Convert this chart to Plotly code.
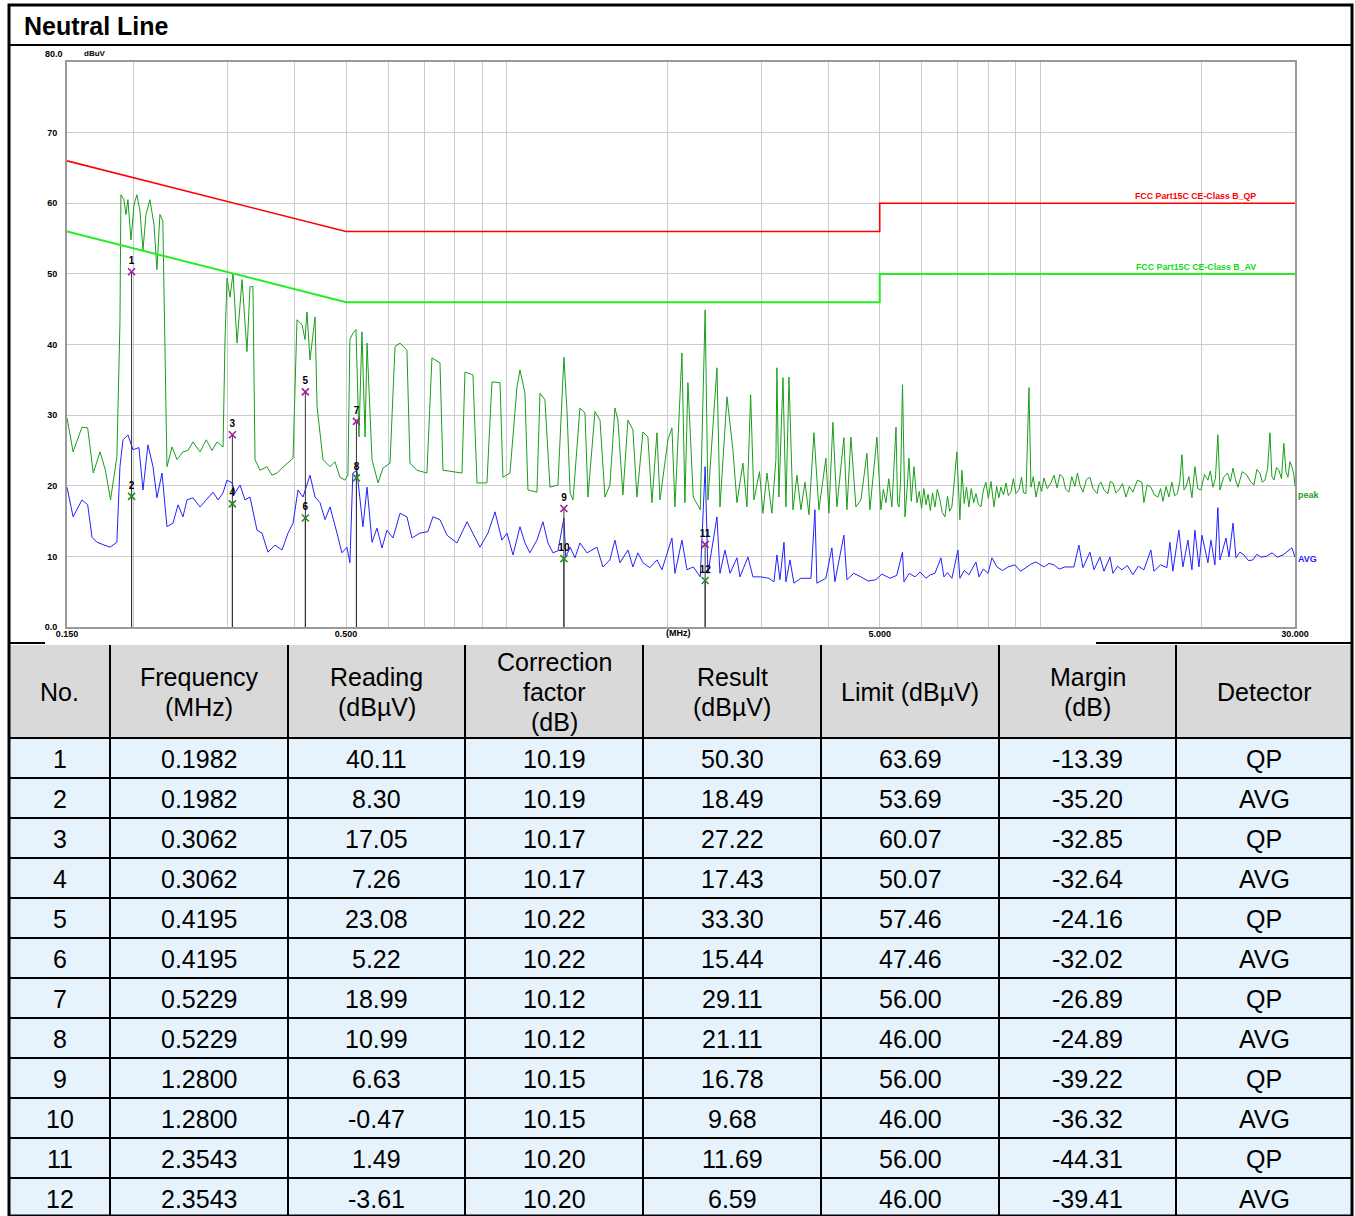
import math
import plotly.graph_objects as go

# ---------------- chart data ----------------
peak_freq = [0.150, 0.154, 0.160, 0.164, 0.168, 0.173, 0.177, 0.181, 0.186, 0.1885, 0.1893, 0.1918, 0.1934, 0.1951,
             0.1977, 0.2003, 0.2028, 0.2054, 0.2082, 0.2109, 0.2145, 0.2183, 0.2211, 0.2240, 0.2268, 0.2299, 0.2309,
             0.2360, 0.2411, 0.2474, 0.2528, 0.2583, 0.2663, 0.2735, 0.2805, 0.2866, 0.2941, 0.2966, 0.2992, 0.3031,
             0.3070, 0.3124, 0.3192, 0.3261, 0.3304, 0.3346, 0.3376, 0.3449, 0.3554, 0.3632, 0.3713, 0.3793, 0.3876,
             0.3978, 0.4046, 0.4135, 0.4189, 0.4225, 0.4280, 0.4374, 0.4412, 0.4527, 0.4666, 0.4766, 0.4870, 0.4976,
             0.5041, 0.5084, 0.5149, 0.5219, 0.5286, 0.5355, 0.5427, 0.5474, 0.5593, 0.5740, 0.5864, 0.6044, 0.6176,
             0.6311, 0.6502, 0.6588, 0.6789, 0.7088, 0.7243, 0.7499, 0.7596, 0.7931, 0.8246, 0.8352, 0.8646, 0.8797,
             0.9183, 0.9384, 0.9715, 0.9840, 1.0142, 1.0454, 1.059, 1.082, 1.096, 1.1394, 1.1544, 1.1793, 1.2052,
             1.2475, 1.2800, 1.297, 1.3147, 1.3313, 1.3716, 1.4018, 1.4199, 1.4635, 1.4957, 1.5278, 1.5611, 1.5952,
             1.6159, 1.6512, 1.6873, 1.7240, 1.7539, 1.8000, 1.8392, 1.8713, 1.9122, 1.9372, 2.0052, 2.0400, 2.0666,
             2.1300, 2.1576, 2.1856, 2.2365, 2.3055, 2.3543, 2.3830, 2.4773, 2.5097, 2.5868, 2.6545, 2.7005, 2.7708,
             2.8194, 2.8647, 2.9058, 2.9767, 3.0207, 3.0735, 3.1401, 3.195, 3.2088, 3.2364, 3.2938, 3.3362, 3.3799,
             3.4387, 3.4986, 3.559, 3.6215, 3.6845, 3.7644, 3.8460, 3.9636, 4.0156, 4.0852, 4.1564, 4.2840, 4.3403,
             4.4154, 4.5117, 4.6103, 4.7315, 4.7930, 4.9400,
             5.026, 5.08, 5.1355, 5.20, 5.2695, 5.3646, 5.40, 5.4342, 5.47, 5.5164, 5.5764, 5.62, 5.6730, 5.73,
             5.7966, 5.8716, 5.93, 5.99, 6.05, 6.1044, 6.16, 6.22, 6.28, 6.3462, 6.41, 6.4827, 6.55, 6.6241, 6.70,
             6.76, 6.8271, 6.9755, 7.0665, 7.1267, 7.20, 7.27, 7.3465, 7.42, 7.50, 7.5736, 7.65, 7.7384, 7.82,
             7.9072, 7.99, 8.08, 8.1856, 8.28, 8.36, 8.436, 8.53, 8.6202, 8.71, 8.8074, 8.90, 9.00, 9.1161, 9.22,
             9.30, 9.398, 9.52, 9.602, 9.70, 9.812, 9.95, 10.05, 10.155, 10.30, 10.467, 10.604, 10.75, 10.88,
             11.026, 11.15, 11.311, 11.45, 11.60, 11.735, 11.87, 12.016, 12.20, 12.384, 12.55, 12.768, 12.88,
             12.99, 13.18, 13.385, 13.52, 13.678, 13.85, 14.036, 14.25, 14.466, 14.68, 14.907, 15.20, 15.498,
             15.632, 15.85, 16.11, 16.35, 16.605, 16.80, 16.967, 17.20, 17.411, 17.635, 17.85, 18.063, 18.25,
             18.418, 18.58, 18.736, 18.98, 19.23, 19.48, 19.72, 19.99, 20.30, 20.60, 20.82, 21.05, 21.28, 21.51,
             21.70, 22.05, 22.42, 22.70, 22.96, 23.20, 23.45, 23.90, 24.38, 24.75, 25.13, 25.45, 25.79, 26.05,
             26.35, 26.65, 26.93, 27.15, 27.40, 27.70, 27.99, 28.30, 28.59, 28.85, 29.10, 29.35, 29.60, 29.85,
             30.00]
peak_level = [29.6, 24.8, 28.3, 28.2, 21.8, 24.8, 22.2, 18.0, 24.1, 43.0, 61.2, 60.5, 58.4, 60.5,
              54.8, 59.8, 61.2, 59.0, 53.4, 58.4, 60.5, 57.0, 50.6, 58.4, 57.5, 27.9, 22.7,
              25.5, 23.7, 24.8, 25.0, 26.2, 24.8, 26.5, 25.0, 26.2, 25.5, 40.7, 49.4, 46.7,
              50.1, 40.2, 49.2, 39.0, 48.2, 48.2, 23.7, 22.2, 22.7, 21.5, 21.8, 22.5, 23.2,
              23.9, 43.5, 42.8, 40.7, 44.6, 37.8, 43.9, 31.2, 23.7, 22.7, 23.4, 21.2, 20.8,
              21.5, 40.7, 41.6, 42.1, 26.9, 41.8, 26.9, 40.2, 23.7, 20.4, 22.5, 23.2, 39.7,
              40.2, 39.2, 23.2, 22.2, 21.8, 38.1, 37.4, 22.2, 22.0, 21.8, 36.1, 35.7, 20.4,
              20.4, 34.7, 34.6, 21.2, 21.8, 34.0, 36.4, 33.1, 19.4, 19.1, 33.1, 32.2, 19.8,
              20.1, 38.2, 30.7, 19.0, 18.0, 31.0, 30.3, 18.4, 30.5, 29.3, 18.4, 20.1, 31.0,
              29.3, 18.7, 29.3, 27.9, 18.4, 27.6, 26.9, 17.6, 27.5, 18.0, 26.5, 28.2, 17.0,
              38.8, 17.6, 34.6, 18.4, 16.6, 44.9, 18.0, 36.7, 17.0, 32.6, 25.0, 17.6, 23.2,
              17.0, 32.9, 18.0, 22.0, 16.1, 21.8, 16.1, 23.7, 36.7, 18.4, 35.3, 17.0, 35.4,
              16.6, 21.5, 16.6, 20.5, 15.9, 27.5, 16.6, 23.9, 16.1, 29.0, 17.0, 26.8, 16.6,
              26.9, 17.0, 18.0, 24.6, 16.6, 26.9,
              16.6, 19.5, 17.6, 21.0, 17.0, 28.3, 17.5, 17.0, 20.5, 34.3, 15.6, 19.0, 23.9, 17.8,
              22.7, 17.6, 19.2, 16.8, 19.6, 17.3, 18.8, 16.5, 19.0, 17.0, 19.5, 18.0, 16.2, 15.6, 18.5,
              16.4, 17.0, 24.8, 15.2, 22.2, 17.5, 19.8, 17.0, 19.6, 17.6, 18.9, 17.4, 17.0, 19.4,
              20.5, 18.2, 20.6, 17.0, 19.9, 18.3, 19.8, 18.7, 20.4, 18.6, 19.1, 21.0, 18.9, 19.4, 21.2,
              19.0, 18.9, 33.9, 19.8, 21.3, 18.4, 20.6, 19.2, 21.1, 19.6, 20.4, 21.5, 19.7, 21.6,
              21.2, 19.5, 19.1, 21.3, 19.9, 21.8, 20.0, 19.1, 20.9, 21.2, 19.6, 18.9, 20.2,
              20.5, 19.3, 18.9, 20.6, 20.4, 19.0, 19.4, 20.3, 18.4, 19.9, 19.1, 20.8, 20.5,
              17.6, 20.1, 19.8, 18.7, 18.4, 19.6, 17.8, 19.9, 18.4, 20.5, 18.6, 18.9, 20.6,
              24.4, 19.4, 19.8, 21.3, 18.3, 22.7, 19.6, 19.4, 21.6, 20.8, 22.1, 19.8, 21.0, 27.2,
              19.4, 21.2, 21.8, 20.6, 22.5, 20.9, 19.8, 22.0, 21.5, 20.6, 20.1, 22.3, 21.8, 20.5,
              20.8, 22.4, 27.5, 21.3, 20.8, 22.6, 22.2, 21.0, 26.0, 22.0, 21.2, 23.4, 22.7, 21.6,
              19.9]

avg_freq = [0.150, 0.154, 0.160, 0.164, 0.1671, 0.1707, 0.1806, 0.186, 0.1885, 0.1910, 0.1951, 0.1994, 0.2046,
            0.2082, 0.2127, 0.2174, 0.2211, 0.2260, 0.2309, 0.2370, 0.2422, 0.2474, 0.2517, 0.2583, 0.2663, 0.2735,
            0.2817, 0.2878, 0.2941, 0.2992, 0.3058, 0.3097, 0.3165, 0.3233, 0.3304, 0.3405, 0.3479, 0.3570, 0.3680,
            0.3793, 0.3893, 0.3978, 0.4064, 0.4153, 0.4280, 0.4374, 0.4469, 0.4567, 0.4666, 0.4808, 0.4912, 0.5019,
            0.5084, 0.5149, 0.5240, 0.5378, 0.5474, 0.5593, 0.5714, 0.5839, 0.5966, 0.6122, 0.6311, 0.6502, 0.6645,
            0.6877, 0.7118, 0.7274, 0.7499, 0.7729, 0.8069, 0.8426, 0.8646, 0.8911, 0.9224, 0.9509, 0.9797, 1.0013,
            1.0276, 1.0590, 1.0820, 1.1052, 1.1394, 1.1693, 1.1948, 1.2209, 1.2475, 1.2800, 1.2900, 1.3147, 1.3425,
            1.3716, 1.4139, 1.4761, 1.5147, 1.5611, 1.5952, 1.6299, 1.6873, 1.7240, 1.7615, 1.8000, 1.8553, 1.9122,
            1.9540, 1.9966, 2.0400, 2.0666, 2.1300, 2.1764, 2.2365, 2.3055, 2.3543, 2.3830, 2.4773, 2.5097, 2.5643,
            2.6213, 2.7005, 2.7360, 2.8317, 2.8935, 2.9949, 3.1000, 3.1677, 3.2088, 3.2505, 3.3079, 3.3362, 3.3946,
            3.4531, 3.559, 3.7163, 3.7804, 3.8128, 3.9636, 4.0676, 4.1208, 4.2840, 4.3403, 4.47, 4.6103, 4.76,
            4.9185, 5.05, 5.2245, 5.38, 5.5164, 5.5518, 5.68, 5.8218, 5.95, 6.1044, 6.22, 6.3462, 6.5114, 6.5961,
            6.70, 6.8271, 7.0063, 7.0665, 7.20, 7.3465, 7.5736, 7.6728, 7.82, 7.976, 8.1152, 8.2920, 8.50, 8.6945,
            8.9613, 9.18, 9.398, 9.60, 9.812, 10.155, 10.38, 10.604, 10.85, 11.119, 11.558, 11.808, 12.016,
            12.384, 12.604, 12.931, 13.157, 13.503, 13.678, 13.95, 14.217, 14.55, 14.907, 15.25, 15.632, 16.11,
            16.32, 16.80, 17.26, 17.487, 17.712, 18.178, 18.497, 18.9, 19.23, 19.48, 19.818, 20.078, 20.60, 20.872,
            21.236, 21.51, 21.70, 22.277, 22.565, 22.96, 23.255, 23.65, 24.068, 24.55, 25.02, 25.45, 25.9, 26.5,
            27.16, 27.8, 28.48, 29.0, 29.60, 30.00]
avg_level = [19.8, 15.6, 18.0, 17.3, 12.7, 12.0, 11.3, 12.0, 22.7, 26.5, 27.2, 25.1, 25.4,
             19.4, 25.8, 22.7, 18.3, 21.8, 14.2, 14.7, 17.3, 15.6, 18.0, 18.3, 17.0, 18.0,
             19.1, 18.0, 19.0, 20.8, 20.4, 19.0, 20.1, 18.0, 18.4, 13.7, 13.3, 10.6, 11.6,
             10.9, 13.3, 14.7, 19.4, 18.4, 21.5, 18.4, 17.6, 15.2, 17.0, 13.3, 10.5, 11.3,
             9.1, 21.8, 22.2, 14.2, 19.8, 12.0, 14.0, 11.2, 13.7, 12.6, 16.1, 15.6, 12.6,
             13.3, 13.5, 15.6, 15.2, 13.0, 11.9, 14.9, 13.3, 11.3, 13.3, 16.3, 12.3, 13.3,
             10.2, 14.2, 11.9, 10.5, 12.3, 14.9, 11.9, 10.5, 10.8, 15.4, 9.9, 11.3, 9.8,
             11.9, 10.5, 11.3, 8.5, 9.5, 12.3, 9.1, 10.9, 8.5, 10.5, 9.1, 8.4, 9.5,
             8.1, 10.5, 12.6, 7.6, 12.3, 8.1, 8.5, 7.1, 22.7, 7.6, 15.6, 7.6, 10.9,
             7.6, 9.8, 7.1, 9.9, 7.1, 7.1, 6.9, 6.4, 10.2, 6.7, 12.0, 6.4, 9.5,
             6.2, 6.9, 6.9, 16.6, 6.2, 6.9, 11.2, 6.4, 13.0, 6.7, 7.6, 7.1, 6.5,
             6.7, 7.5, 6.9, 7.3, 10.6, 6.4, 7.6, 7.1, 7.8, 6.9, 7.4, 7.6, 9.8, 7.1,
             7.7, 6.9, 10.9, 6.9, 8.0, 7.4, 9.2, 7.1, 8.2, 7.6, 9.8, 8.5, 8.0, 8.5,
             8.8, 7.9, 8.4, 8.9, 9.2, 8.5, 9.0, 8.8, 8.2, 8.5, 8.5, 11.6, 8.4,
             10.6, 8.1, 9.9, 7.9, 9.9, 7.6, 8.6, 8.1, 8.7, 7.4, 8.6, 8.1, 10.9,
             7.9, 8.8, 8.4, 12.0, 7.9, 13.7, 8.5, 12.3, 8.1, 13.7, 8.5, 13.0, 9.1, 12.3,
             8.8, 16.9, 9.5, 12.6, 9.9, 14.7, 9.8, 10.6, 10.2, 9.4, 9.5, 10.3, 9.9, 10.0,
             10.5, 9.9, 10.2, 10.7, 11.2, 9.9]

limit_freq = [0.15, 0.5, 0.5, 5.0, 5.0, 30.0]
qp_limit = [66.0, 56.0, 56.0, 56.0, 60.0, 60.0]
av_limit = [56.0, 46.0, 46.0, 46.0, 50.0, 50.0]

x_tick_vals = [0.15, 0.2, 0.3, 0.4, 0.5, 0.6, 0.7, 0.8, 0.9, 1, 2, 3, 4, 5, 6, 7, 8, 9, 10, 20, 30]
x_tick_text = ["0.150", "", "", "", "0.500", "", "", "", "", "", "", "", "", "5.000", "", "", "", "", "", "", "30.000"]
y_tick_vals = [0, 10, 20, 30, 40, 50, 60, 70]
y_tick_text = ["0.0", "10", "20", "30", "40", "50", "60", "70"]

# ---------------- table data ----------------
headers = ["No.", "Frequency\n(MHz)", "Reading\n(dBµV)", "Correction\nfactor\n(dB)", "Result\n(dBµV)",
           "Limit (dBµV)", "Margin\n(dB)", "Detector"]
marker_no = [1, 2, 3, 4, 5, 6, 7, 8, 9, 10, 11, 12]
freq = [0.1982, 0.1982, 0.3062, 0.3062, 0.4195, 0.4195, 0.5229, 0.5229, 1.2800, 1.2800, 2.3543, 2.3543]
reading = [40.11, 8.30, 17.05, 7.26, 23.08, 5.22, 18.99, 10.99, 6.63, -0.47, 1.49, -3.61]
correction = [10.19, 10.19, 10.17, 10.17, 10.22, 10.22, 10.12, 10.12, 10.15, 10.15, 10.20, 10.20]
result = [50.30, 18.49, 27.22, 17.43, 33.30, 15.44, 29.11, 21.11, 16.78, 9.68, 11.69, 6.59]
limit = [63.69, 53.69, 60.07, 50.07, 57.46, 47.46, 56.00, 46.00, 56.00, 46.00, 56.00, 46.00]
margin = [-13.39, -35.20, -32.85, -32.64, -24.16, -32.02, -26.89, -24.89, -39.22, -36.32, -44.31, -39.41]
detector = ["QP", "AVG", "QP", "AVG", "QP", "AVG", "QP", "AVG", "QP", "AVG", "QP", "AVG"]

# ---------------- layout helpers (pixels -> paper) ----------------
W, H = 1355, 1216
FONT = "Arial, Liberation Sans, sans-serif"


def px(x):
    return x / W


def py(y):
    return 1 - y / H


fig = go.Figure()

fig.add_trace(go.Scatter(x=peak_freq, y=peak_level, mode="lines", line=dict(color="#1a9e1a", width=1),
                         hoverinfo="skip", showlegend=False))
fig.add_trace(go.Scatter(x=avg_freq, y=avg_level, mode="lines", line=dict(color="#2222ff", width=1),
                         hoverinfo="skip", showlegend=False))
fig.add_trace(go.Scatter(x=limit_freq, y=qp_limit, mode="lines", line=dict(color="#ff0000", width=1.6),
                         hoverinfo="skip", showlegend=False))
fig.add_trace(go.Scatter(x=limit_freq, y=av_limit, mode="lines", line=dict(color="#22ee22", width=2),
                         hoverinfo="skip", showlegend=False))

vx, vy = [], []
for f, r in zip(freq, result):
    vx += [f, f, None]
    vy += [r, 0, None]
fig.add_trace(go.Scatter(x=vx, y=vy, mode="lines", line=dict(color="#333333", width=1),
                         hoverinfo="skip", showlegend=False))

for det, col in (("QP", "#a0209a"), ("AVG", "#2a8a2a")):
    idx = [i for i, d in enumerate(detector) if d == det]
    fig.add_trace(go.Scatter(
        x=[freq[i] for i in idx], y=[result[i] for i in idx],
        text=["<b>%d</b>" % marker_no[i] for i in idx],
        mode="markers+text", textposition="top center",
        textfont=dict(family=FONT, size=10, color="black"),
        marker=dict(symbol="x-thin", size=7, line=dict(color=col, width=1.6)),
        hoverinfo="skip", showlegend=False))

shapes = []
annotations = []

shapes.append(dict(type="rect", xref="paper", yref="paper", x0=px(9), x1=px(1352), y0=py(1216), y1=py(5),
                   line=dict(color="black", width=3), fillcolor="rgba(0,0,0,0)", layer="above"))
shapes.append(dict(type="line", xref="paper", yref="paper", x0=px(9), x1=px(1352), y0=py(45), y1=py(45),
                   line=dict(color="black", width=2)))
annotations.append(dict(text="<b>Neutral Line</b>", xref="paper", yref="paper", x=px(22), y=py(26),
                        xanchor="left", yanchor="middle", showarrow=False,
                        font=dict(family=FONT, size=25, color="black")))

annotations.append(dict(text="<b>80.0</b>", xref="paper", yref="paper", x=px(65), y=py(54), xanchor="right",
                        yanchor="middle", showarrow=False, font=dict(family=FONT, size=9, color="black")))
annotations.append(dict(text="<b>dBuV</b>", xref="paper", yref="paper", x=px(82), y=py(53), xanchor="left",
                        yanchor="middle", showarrow=False, font=dict(family=FONT, size=8, color="black")))
annotations.append(dict(text="<b>(MHz)</b>", xref="paper", yref="paper", x=px(678), y=py(633), xanchor="center",
                        yanchor="middle", showarrow=False, font=dict(family=FONT, size=9, color="black")))
annotations.append(dict(text="<b>FCC Part15C CE-Class B_QP</b>", xref="paper", yref="paper", x=px(1258),
                        y=py(196), xanchor="right", yanchor="middle", showarrow=False,
                        font=dict(family=FONT, size=8.8, color="#ff0000")))
annotations.append(dict(text="<b>FCC Part15C CE-Class B_AV</b>", xref="paper", yref="paper", x=px(1258),
                        y=py(267), xanchor="right", yanchor="middle", showarrow=False,
                        font=dict(family=FONT, size=8.8, color="#11dd11")))
annotations.append(dict(text="<b>peak</b>", xref="paper", yref="paper", x=px(1296), y=py(495), xanchor="left",
                        yanchor="middle", showarrow=False, font=dict(family=FONT, size=9, color="#1a9e1a")))
annotations.append(dict(text="<b>AVG</b>", xref="paper", yref="paper", x=px(1296), y=py(559), xanchor="left",
                        yanchor="middle", showarrow=False, font=dict(family=FONT, size=9, color="#2222ff")))

col_x = [10, 110, 288, 465, 643, 821, 999, 1176, 1352]
head_top, head_bot, row_h = 645, 738, 40
shapes.append(dict(type="rect", xref="paper", yref="paper", x0=px(col_x[0]), x1=px(col_x[-1]),
                   y0=py(head_bot), y1=py(head_top), fillcolor="#d9d9d9", line=dict(width=0), layer="below"))
shapes.append(dict(type="rect", xref="paper", yref="paper", x0=px(col_x[0]), x1=px(col_x[-1]),
                   y0=py(1216), y1=py(head_bot), fillcolor="#e7f3fc", line=dict(width=0), layer="below"))
shapes.append(dict(type="line", xref="paper", yref="paper", x0=px(9), x1=px(45), y0=py(643), y1=py(643),
                   line=dict(color="black", width=2)))
shapes.append(dict(type="line", xref="paper", yref="paper", x0=px(1096), x1=px(1352), y0=py(643), y1=py(643),
                   line=dict(color="black", width=2)))
for cx in col_x[1:-1]:
    shapes.append(dict(type="line", xref="paper", yref="paper", x0=px(cx), x1=px(cx), y0=py(1216),
                       y1=py(head_top), line=dict(color="black", width=2)))
n_rows = len(marker_no)
for r in range(n_rows):
    yb = head_bot + r * row_h
    shapes.append(dict(type="line", xref="paper", yref="paper", x0=px(col_x[0]), x1=px(col_x[-1]), y0=py(yb),
                       y1=py(yb), line=dict(color="black", width=2)))

head_mid = (head_top + head_bot) / 2
for c, htxt in enumerate(headers):
    lines = htxt.split("\n")
    cx = (col_x[c] + col_x[c + 1]) / 2
    for k, ln in enumerate(lines):
        yc = head_mid + (k - (len(lines) - 1) / 2) * 30
        annotations.append(dict(text=ln, xref="paper", yref="paper", x=px(cx), y=py(yc), xanchor="center",
                                yanchor="middle", showarrow=False, font=dict(family=FONT, size=25, color="black")))

columns = [
    [str(v) for v in marker_no],
    ["%.4f" % v for v in freq],
    ["%.2f" % v for v in reading],
    ["%.2f" % v for v in correction],
    ["%.2f" % v for v in result],
    ["%.2f" % v for v in limit],
    ["%.2f" % v for v in margin],
    detector,
]
for c, col in enumerate(columns):
    cx = (col_x[c] + col_x[c + 1]) / 2
    for r, txt in enumerate(col):
        yc = head_bot + r * row_h + row_h / 2 + 1
        annotations.append(dict(text=txt, xref="paper", yref="paper", x=px(cx), y=py(yc), xanchor="center",
                                yanchor="middle", showarrow=False, font=dict(family=FONT, size=25, color="black")))

fig.update_layout(
    width=W, height=H, autosize=False,
    margin=dict(l=0, r=0, t=0, b=0, pad=0, autoexpand=False),
    paper_bgcolor="white", plot_bgcolor="white",
    shapes=shapes, annotations=annotations,
    showlegend=False,
    xaxis=dict(type="log", range=[math.log10(0.15), math.log10(30)], domain=[px(67), px(1295)],
               tickvals=x_tick_vals, ticktext=["<b>%s</b>" % t if t else "" for t in x_tick_text],
               tickfont=dict(family=FONT, size=9, color="black"), ticks="", automargin=False,
               ticklabelstandoff=-3,
               showgrid=True, gridcolor="#cccccc", gridwidth=1, zeroline=False,
               showline=True, linecolor="#9a9a9a", linewidth=2, mirror=True),
    yaxis=dict(range=[0, 80], domain=[py(627), py(62)], automargin=False,
               tickvals=y_tick_vals, ticktext=["<b>%s</b>" % t for t in y_tick_text],
               tickfont=dict(family=FONT, size=9, color="black"),
               ticks="outside", ticklen=6, tickcolor="rgba(0,0,0,0)",
               showgrid=True, gridcolor="#cccccc", gridwidth=1, zeroline=False,
               showline=True, linecolor="#9a9a9a", linewidth=2, mirror=True),
)

fig.write_html(
    "out.html",
    config={"displayModeBar": False, "responsive": False},
    post_script=("document.documentElement.style.margin='0';document.body.style.margin='0';"
                 "document.documentElement.style.overflow='hidden';document.body.style.overflow='hidden';"),
)
